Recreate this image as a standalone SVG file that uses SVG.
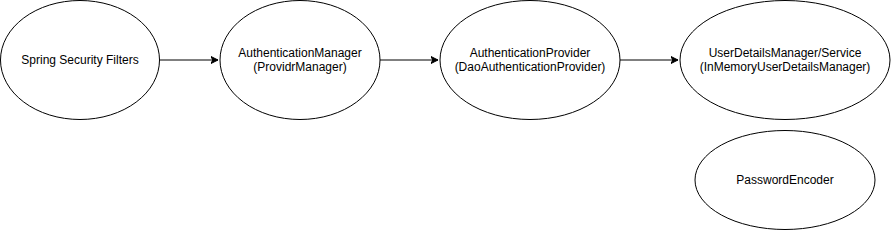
<svg xmlns="http://www.w3.org/2000/svg" width="891" height="231" viewBox="0 0 891 231">
<defs>
<style>
.n ellipse{fill:#fff;stroke:#000;stroke-width:1}
.n text{font-family:"Liberation Sans",Arial,sans-serif;font-size:12px;fill:#000;text-anchor:middle}
.e line{stroke:#000;stroke-width:1}
</style>
<marker id="arr" markerWidth="10" markerHeight="10" refX="7" refY="4" orient="auto" markerUnits="userSpaceOnUse">
<path d="M0,0.5 L7,4 L0,7.5 L1.75,4 Z" fill="#000" stroke="#000" stroke-width="1"/>
</marker>
</defs>
<rect width="891" height="231" fill="#fff"/>
<g id="edges" class="e">
<line x1="160" y1="60" x2="218" y2="60" marker-end="url(#arr)"/>
<line x1="380" y1="60" x2="438" y2="60" marker-end="url(#arr)"/>
<line x1="620" y1="60" x2="678" y2="60" marker-end="url(#arr)"/>
</g>
<g id="filters" class="n">
<ellipse cx="80" cy="60" rx="79.5" ry="59.5"/>
<text x="80" y="64">Spring Security Filters</text>
</g>
<g id="authManager" class="n">
<ellipse cx="300" cy="60" rx="80" ry="59.5"/>
<text x="300" y="57">AuthenticationManager</text>
<text x="300" y="71">(ProvidrManager)</text>
</g>
<g id="authProvider" class="n">
<ellipse cx="530" cy="60" rx="90" ry="59.5"/>
<text x="530" y="57">AuthenticationProvider</text>
<text x="530" y="71">(DaoAuthenticationProvider)</text>
</g>
<g id="userDetails" class="n">
<ellipse cx="785" cy="60" rx="105" ry="59.5"/>
<text x="785" y="57">UserDetailsManager/Service</text>
<text x="785" y="71">(InMemoryUserDetailsManager)</text>
</g>
<g id="passwordEncoder" class="n">
<ellipse cx="785" cy="180" rx="90" ry="49.5"/>
<text x="785" y="184">PasswordEncoder</text>
</g>
</svg>
